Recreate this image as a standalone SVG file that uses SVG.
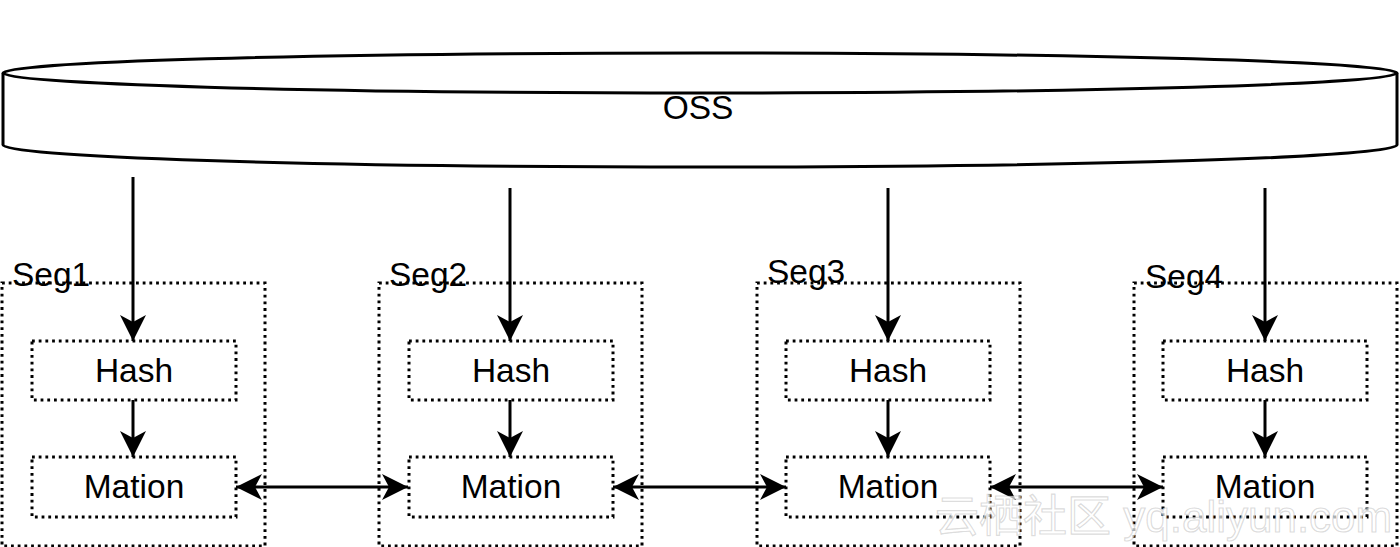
<svg xmlns="http://www.w3.org/2000/svg" width="1400" height="547" viewBox="0 0 1400 547">
<style>
.t{font-family:"Liberation Sans",Arial,Helvetica,sans-serif;font-size:33.5px;fill:#000}
.c{text-anchor:middle}
.dot{fill:none;stroke:#000;stroke-width:3;stroke-dasharray:2.8 3.9}
.ln{fill:none;stroke:#000;stroke-width:3}
.wm{font-family:"Liberation Sans","Noto Sans CJK SC",sans-serif;font-size:44px;fill:#fff;fill-opacity:0.7;stroke:#888;stroke-opacity:0.3;stroke-width:1.2}
</style>
<defs>
<marker id="ah" markerUnits="userSpaceOnUse" markerWidth="27" markerHeight="28" viewBox="0 0 27 28" refX="26" refY="14" orient="auto-start-reverse">
<path d="M0,1 L26,14 L0,27 L7,14 Z" fill="#000"/>
</marker>
</defs>
<rect width="1400" height="547" fill="#fff"/>
<g id="oss">
<path d="M3,73 A697,20 0 0 1 1397,73 L1397,145 A697,22 0 0 1 3,145 Z" fill="#fff" stroke="#000" stroke-width="3"/>
<path d="M3,73 A697,20 0 0 0 1397,73" fill="none" stroke="#000" stroke-width="3"/>
<text class="t c" x="698" y="119">OSS</text>
</g>
<g id="seg1">
<rect class="dot" x="2" y="283" width="263" height="263"/>
<text class="t" x="12" y="286">Seg1</text>
</g>
<g id="hash1"><rect class="dot" x="32" y="341" width="204" height="59"/><text class="t c" x="134" y="382">Hash</text></g>
<g id="mation1"><rect class="dot" x="32" y="457" width="204" height="60"/><text class="t c" x="134" y="498">Mation</text></g>
<g id="seg2">
<rect class="dot" x="379" y="283" width="263" height="263"/>
<text class="t" x="389" y="286">Seg2</text>
</g>
<g id="hash2"><rect class="dot" x="409" y="341" width="204" height="59"/><text class="t c" x="511" y="382">Hash</text></g>
<g id="mation2"><rect class="dot" x="409" y="457" width="204" height="60"/><text class="t c" x="511" y="498">Mation</text></g>
<g id="seg3">
<rect class="dot" x="757" y="283" width="263" height="263"/>
<text class="t" x="767" y="283">Seg3</text>
</g>
<g id="hash3"><rect class="dot" x="786" y="341" width="204" height="59"/><text class="t c" x="888" y="382">Hash</text></g>
<g id="mation3"><rect class="dot" x="786" y="457" width="204" height="60"/><text class="t c" x="888" y="498">Mation</text></g>
<g id="seg4">
<rect class="dot" x="1134" y="283" width="263" height="263"/>
<text class="t" x="1145" y="288">Seg4</text>
</g>
<g id="hash4"><rect class="dot" x="1163" y="341" width="204" height="59"/><text class="t c" x="1265" y="382">Hash</text></g>
<g id="mation4"><rect class="dot" x="1163" y="457" width="204" height="60"/><text class="t c" x="1265" y="498">Mation</text></g>
<g id="connectors">
<line class="ln" x1="133" y1="177" x2="133" y2="341" marker-end="url(#ah)"/>
<line class="ln" x1="510" y1="188" x2="510" y2="341" marker-end="url(#ah)"/>
<line class="ln" x1="888" y1="188" x2="888" y2="341" marker-end="url(#ah)"/>
<line class="ln" x1="1265" y1="188" x2="1265" y2="341" marker-end="url(#ah)"/>
<line class="ln" x1="133" y1="400" x2="133" y2="457" marker-end="url(#ah)"/>
<line class="ln" x1="510" y1="400" x2="510" y2="457" marker-end="url(#ah)"/>
<line class="ln" x1="888" y1="400" x2="888" y2="457" marker-end="url(#ah)"/>
<line class="ln" x1="1265" y1="400" x2="1265" y2="457" marker-end="url(#ah)"/>
<line class="ln" x1="236" y1="487" x2="408" y2="487" marker-start="url(#ah)" marker-end="url(#ah)"/>
<line class="ln" x1="613" y1="487" x2="786" y2="487" marker-start="url(#ah)" marker-end="url(#ah)"/>
<line class="ln" x1="990" y1="487" x2="1163" y2="487" marker-start="url(#ah)" marker-end="url(#ah)"/>
</g>
<text class="wm" x="935" y="532">云栖社区 yq.aliyun.com</text>
</svg>
